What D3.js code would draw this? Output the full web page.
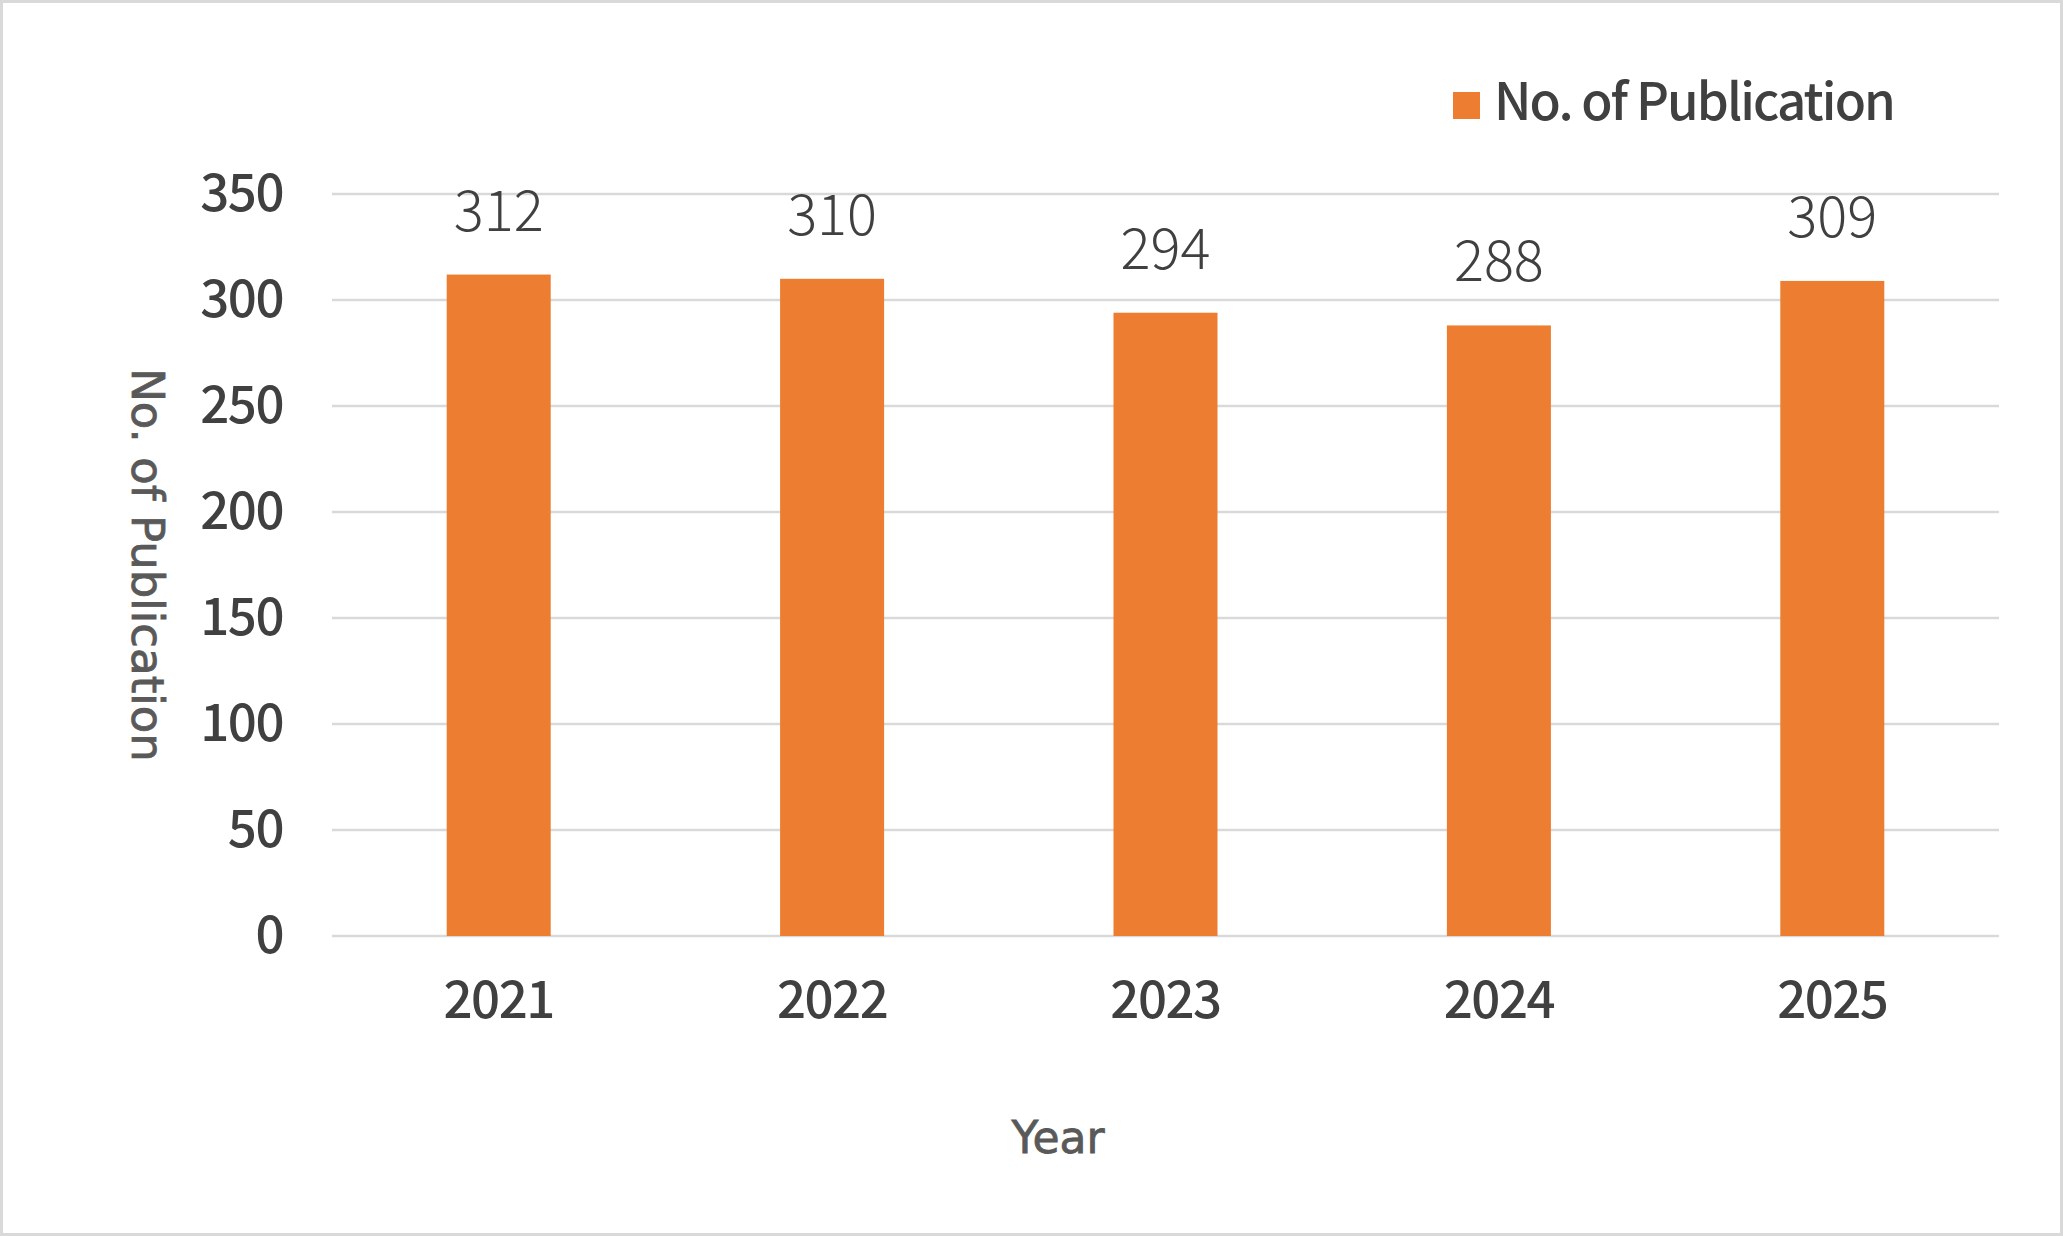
<!DOCTYPE html>
<html>
<head>
<meta charset="utf-8">
<script src="https://cdn.jsdelivr.net/npm/d3@7"></script>
<style>
    body { margin: 0; background: #fff; }
</style>
</head>
<body>
<div id="chart-area"></div>
<script>
let years = ["2021", "2022", "2023", "2024", "2025"];
let publications = [312, 310, 294, 288, 309];
let yTicks = [0, 50, 100, 150, 200, 250, 300, 350];

let svg = d3.select("#chart-area")
    .append("svg")
    .attr("width", "2063")
    .attr("height", "1236");

// outer frame
svg.append("rect")
    .attr("x", 1.5)
    .attr("y", 1.5)
    .attr("width", 2060)
    .attr("height", 1233)
    .attr("fill", "#fff")
    .attr("stroke", "#d9d9d9")
    .attr("stroke-width", 3);

let x = d3.scaleBand()
    .domain(years)
    .range([332, 1999])
    .paddingInner(0.688)
    .paddingOuter(0.344);

let y = d3.scaleLinear()
    .domain([0, 350])
    .range([936, 194]);

let tickFont = "'Noto Sans CJK TC', 'Open Sans', sans-serif";
let titleFont = "'DejaVu Sans', Verdana, sans-serif";

// gridlines
svg.append("g")
    .selectAll("line")
    .data(yTicks)
    .enter().append("line")
    .attr("x1", 332)
    .attr("x2", 1999)
    .attr("y1", (d) => y(d))
    .attr("y2", (d) => y(d))
    .attr("stroke", "#d9d9d9")
    .attr("stroke-width", 2.5);

// y tick labels
svg.append("g")
    .selectAll("text")
    .data(yTicks)
    .enter().append("text")
    .attr("x", 283)
    .attr("y", (d) => y(d) + 17)
    .attr("text-anchor", "end")
    .attr("font-family", tickFont)
    .attr("font-weight", 500)
    .attr("font-size", 51)
    .attr("letter-spacing", -1.5)
    .attr("fill", "#404040")
    .text((d) => d);

// bars
svg.append("g")
    .selectAll("rect")
    .data(publications)
    .enter().append("rect")
    .attr("x", (d, i) => x(years[i]))
    .attr("y", (d) => y(d))
    .attr("width", x.bandwidth())
    .attr("height", (d) => y(0) - y(d))
    .attr("fill", "#ED7D31");

// data labels
svg.append("g")
    .selectAll("text")
    .data(publications)
    .enter().append("text")
    .attr("x", (d, i) => x(years[i]) + x.bandwidth() / 2)
    .attr("y", (d) => y(d) - 44)
    .attr("text-anchor", "middle")
    .attr("font-family", tickFont)
    .attr("font-weight", 300)
    .attr("font-size", 56)
    .attr("fill", "#404040")
    .text((d) => d);

// x tick labels
svg.append("g")
    .selectAll("text")
    .data(years)
    .enter().append("text")
    .attr("x", (d) => x(d) + x.bandwidth() / 2)
    .attr("y", 1018)
    .attr("text-anchor", "middle")
    .attr("font-family", tickFont)
    .attr("font-weight", 500)
    .attr("font-size", 51)
    .attr("letter-spacing", -1.5)
    .attr("fill", "#404040")
    .text((d) => d);

// axis titles
svg.append("text")
    .attr("x", 1058)
    .attr("y", 1153)
    .attr("text-anchor", "middle")
    .attr("font-family", titleFont)
    .attr("font-size", 44)
    .attr("fill", "#595959")
    .attr("stroke", "#595959")
    .attr("stroke-width", 0.8)
    .text("Year");

svg.append("text")
    .attr("transform", "translate(132,565) rotate(90)")
    .attr("text-anchor", "middle")
    .attr("font-family", titleFont)
    .attr("font-size", 45)
    .attr("fill", "#595959")
    .attr("stroke", "#595959")
    .attr("stroke-width", 0.8)
    .text("No. of Publication");

// legend
svg.append("rect")
    .attr("x", 1453)
    .attr("y", 92)
    .attr("width", 27)
    .attr("height", 27)
    .attr("fill", "#ED7D31");

svg.append("text")
    .attr("x", 1494)
    .attr("y", 120)
    .attr("font-family", tickFont)
    .attr("font-weight", 500)
    .attr("font-size", 51)
    .attr("letter-spacing", -1.9)
    .attr("fill", "#404040")
    .text("No. of Publication");
</script>
</body>
</html>
